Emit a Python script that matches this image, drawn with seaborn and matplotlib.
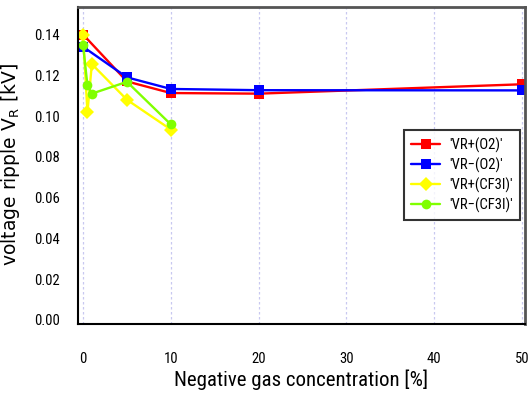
import matplotlib
matplotlib.use("Agg")
import matplotlib.pyplot as plt
from matplotlib import font_manager
import seaborn as sns
import pandas as pd

# Ripple voltage versus negative-gas concentration
conc_o2 = [0, 5, 10, 20, 50]
vr_plus_o2 = [0.140, 0.117, 0.1113, 0.1110, 0.1156]
vr_minus_o2 = [0.134, 0.1190, 0.1133, 0.1127, 0.1126]

conc_cf3i = [0, 0.5, 1, 5, 10]
vr_plus_cf3i = [0.140, 0.1018, 0.1255, 0.108, 0.0934]
vr_minus_cf3i = [0.1348, 0.115, 0.111, 0.1168, 0.0959]

series_names = ["'VR+(O2)'", "'VR−(O2)'", "'VR+(CF3I)'", "'VR−(CF3I)'"]
series_colors = ["#ff0000", "#0000ff", "#ffff00", "#80ff00"]
series_markers = ["s", "s", "D", "o"]

frames = []
for name, xs, ys in zip(series_names,
                        [conc_o2, conc_o2, conc_cf3i, conc_cf3i],
                        [vr_plus_o2, vr_minus_o2, vr_plus_cf3i, vr_minus_cf3i]):
    frames.append(pd.DataFrame({"conc": xs, "vr": ys, "series": name}))
df = pd.concat(frames, ignore_index=True)

# narrow face for ticks, axis title and legend
available = {f.name for f in font_manager.fontManager.ttflist}
narrow = "DejaVu Sans"
for cand in ["Roboto Condensed", "PT Sans Narrow", "Archivo Narrow",
             "Liberation Sans Narrow", "Fira Sans Condensed",
             "IBM Plex Sans Condensed", "Open Sans Condensed"]:
    if cand in available:
        narrow = cand
        break

sns.set_style("white")
plt.rcParams["font.family"] = [narrow, "DejaVu Sans"]
plt.rcParams["text.color"] = "black"
plt.rcParams["axes.labelcolor"] = "black"

fig = plt.figure(figsize=(5.31, 4.03), dpi=100)
ax = fig.add_axes([0.147, 0.196, 0.8417, 0.7866])

sns.lineplot(
    data=df, x="conc", y="vr", hue="series", style="series",
    hue_order=series_names, style_order=series_names,
    palette=dict(zip(series_names, series_colors)),
    markers=dict(zip(series_names, series_markers)),
    dashes=False, sort=False, estimator=None,
    linewidth=1.7, markersize=7, markeredgewidth=0,
    ax=ax, legend=True,
)

ax.set_xlim(-0.57, 50.34)
ax.set_ylim(-0.002, 0.1535)
ax.set_xticks([0, 10, 20, 30, 40, 50])
ax.set_yticks([0.00, 0.02, 0.04, 0.06, 0.08, 0.10, 0.12, 0.14])
ax.set_yticklabels([f"{v:.2f}" for v in ax.get_yticks()])

ax.xaxis.grid(True, color="#c8c8f0", linestyle=(0, (2, 2)), linewidth=0.9)
ax.yaxis.grid(False)
ax.set_axisbelow(True)

ax.tick_params(axis="both", direction="out", length=8, width=1.5,
               labelsize=10.5, colors="black", pad=5)
ax.tick_params(axis="x", pad=12)
for side in ["left", "bottom"]:
    ax.spines[side].set_color("black")
    ax.spines[side].set_linewidth(1.5)
for side in ["top", "right"]:
    ax.spines[side].set_color("#555555")
    ax.spines[side].set_linewidth(2)

ax.set_xlabel("Negative gas concentration [%]", fontsize=15, labelpad=3,
              color="black")
ax.set_ylabel(r"voltage ripple V$_{\mathregular{R}}$ [kV]", fontsize=13.5,
              family="DejaVu Sans", color="black")
ax.yaxis.set_label_coords(-0.125, 0.503)

leg = ax.legend(loc="upper right", bbox_to_anchor=(0.989, 0.612),
                frameon=True, fancybox=False, fontsize=10.5,
                handlelength=2.0, borderpad=0.5, labelspacing=0.32,
                handletextpad=0.6, borderaxespad=0)
leg.get_frame().set_edgecolor("black")
leg.get_frame().set_linewidth(1.5)
for t in leg.get_texts():
    t.set_color("black")
for h in leg.legend_handles:
    h.set_markersize(7)

fig.savefig("out.png", dpi=100)
